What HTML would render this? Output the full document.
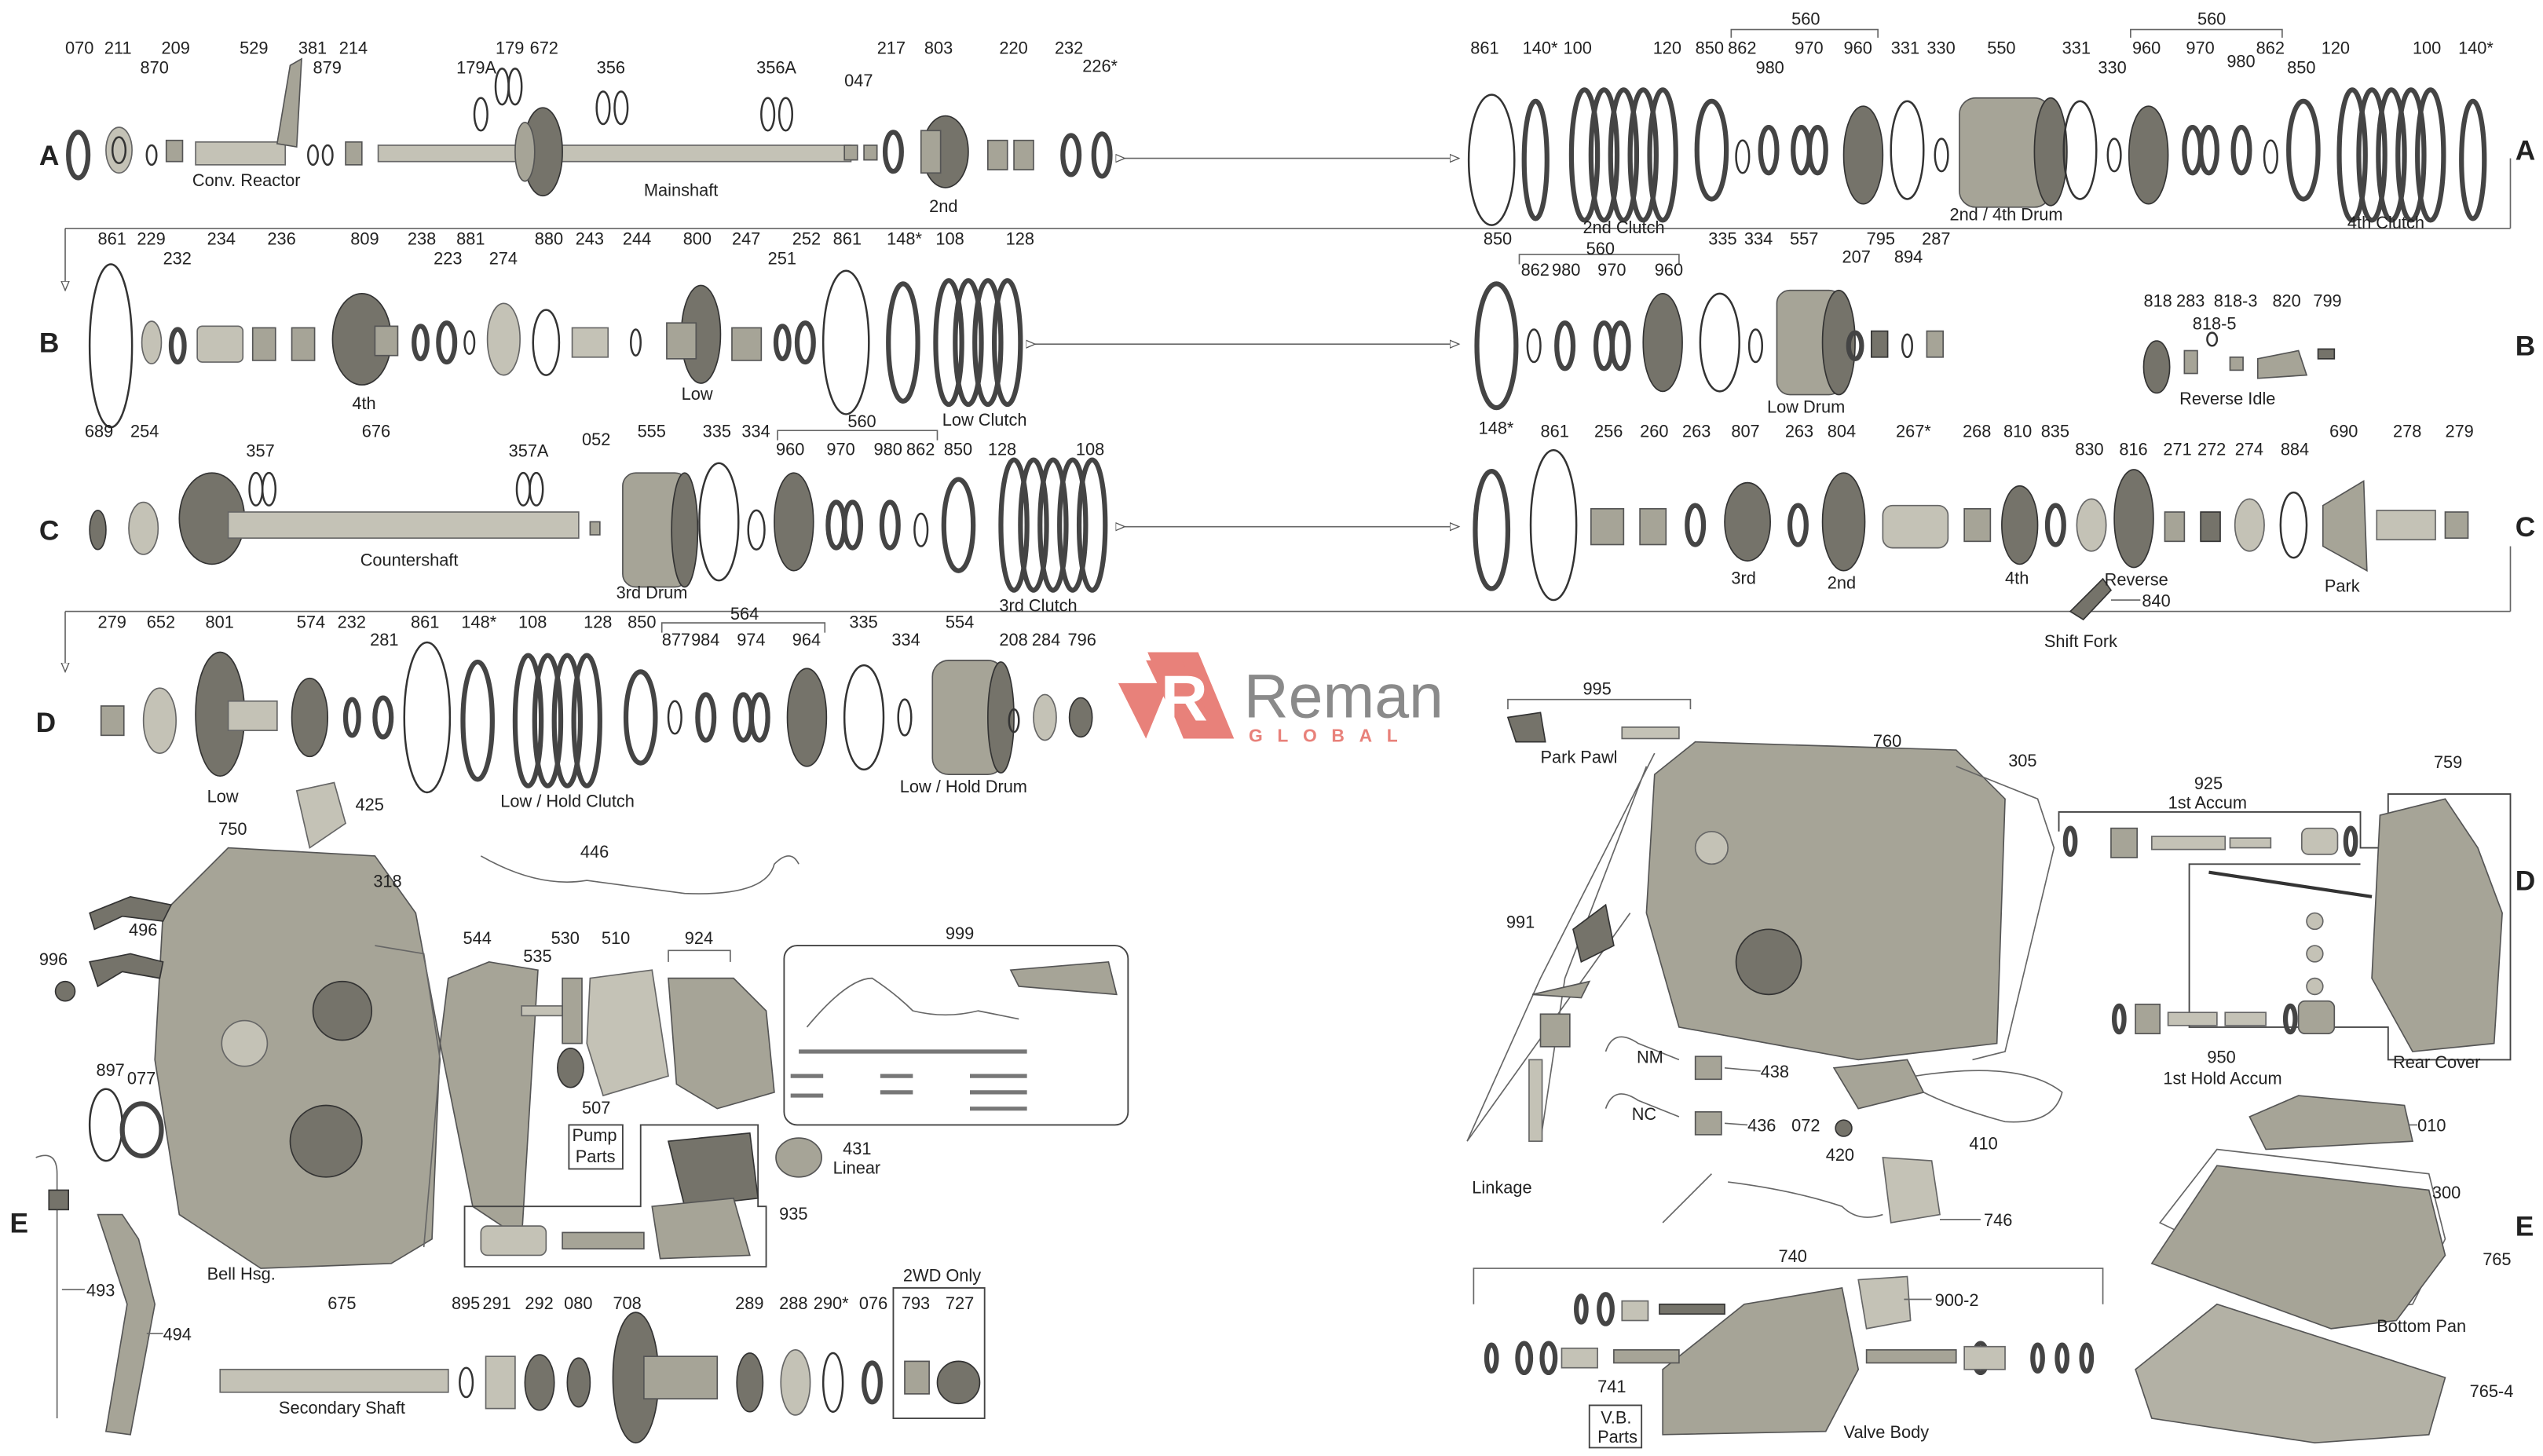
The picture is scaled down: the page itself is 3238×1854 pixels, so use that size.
<!DOCTYPE html>
<html><head><meta charset="utf-8"><style>
html,body{margin:0;padding:0;background:#fff;width:3238px;height:1854px;overflow:hidden}
svg{display:block}
text{font-family:"Liberation Sans",sans-serif;font-size:10.5px;fill:#222}
.L{font-size:17px;font-weight:bold;fill:#222}
.r{fill:none;stroke:#333;stroke-width:1.2}
.rt{fill:none;stroke:#444;stroke-width:3}
.g{fill:#a6a497;stroke:#555;stroke-width:.8}
.gl{fill:#c4c2b6;stroke:#666;stroke-width:.8}
.gd{fill:#75736a;stroke:#333;stroke-width:.8}
.ln{stroke:#666;stroke-width:.8;fill:none}
.bx{fill:none;stroke:#444;stroke-width:.9}
</style></head><body>
<svg width="3238" height="1854" viewBox="0 0 1560 893" xmlns="http://www.w3.org/2000/svg">
<defs><marker id="a" markerWidth="8" markerHeight="8" refX="7" refY="4" orient="auto"><path d="M0,1 L7,4 L0,7 Z" fill="#fff" stroke="#555" stroke-width=".8"/></marker></defs>

<text class="L" x="24" y="101">A</text><text class="L" x="1543" y="98">A</text>
<text class="L" x="24" y="216">B</text><text class="L" x="1543" y="218">B</text>
<text class="L" x="24" y="331">C</text><text class="L" x="1543" y="329">C</text>
<text class="L" x="22" y="449">D</text><text class="L" x="1543" y="546">D</text>
<text class="L" x="6" y="756">E</text><text class="L" x="1543" y="758">E</text>

<line class="ln" x1="690" y1="97" x2="895" y2="97" marker-end="url(#a)" marker-start="url(#a)"/>
<line class="ln" x1="40" y1="140" x2="1540" y2="140"/><line class="ln" x1="1540" y1="97" x2="1540" y2="140"/>
<line class="ln" x1="40" y1="140" x2="40" y2="178" marker-end="url(#a)"/>
<line class="ln" x1="635" y1="211" x2="895" y2="211" marker-end="url(#a)" marker-start="url(#a)"/>
<line class="ln" x1="690" y1="323" x2="895" y2="323" marker-end="url(#a)" marker-start="url(#a)"/>
<line class="ln" x1="40" y1="375" x2="1540" y2="375"/><line class="ln" x1="1540" y1="335" x2="1540" y2="375"/>
<line class="ln" x1="40" y1="375" x2="40" y2="412" marker-end="url(#a)"/>

<ellipse class="rt" cx="48" cy="95" rx="6" ry="14" stroke-width="5"/>
<ellipse class="gl" cx="73" cy="92" rx="8" ry="14"/><ellipse class="r" cx="73" cy="92" rx="4" ry="8"/>
<ellipse class="r" cx="93" cy="95" rx="3" ry="6"/>
<rect class="g" x="102" y="86" width="10" height="13"/>
<rect class="gl" x="120" y="87" width="55" height="14"/><path class="g" d="M170 88 L178 40 L185 36 L182 90 Z"/>
<ellipse class="r" cx="192" cy="95" rx="3" ry="6"/><ellipse class="r" cx="201" cy="95" rx="3" ry="6"/>
<rect class="g" x="212" y="87" width="10" height="14"/>
<rect class="gl" x="232" y="89" width="290" height="10"/>
<ellipse class="gd" cx="333" cy="93" rx="12" ry="27"/><ellipse class="g" cx="322" cy="93" rx="6" ry="18"/>
<ellipse class="r" cx="295" cy="70" rx="4" ry="10"/><ellipse class="r" cx="308" cy="53" rx="4" ry="11"/><ellipse class="r" cx="316" cy="53" rx="4" ry="11"/>
<ellipse class="r" cx="370" cy="66" rx="4" ry="10"/><ellipse class="r" cx="381" cy="66" rx="4" ry="10"/>
<ellipse class="r" cx="471" cy="70" rx="4" ry="10"/><ellipse class="r" cx="482" cy="70" rx="4" ry="10"/>
<rect class="g" x="518" y="89" width="8" height="9"/><rect class="g" x="530" y="89" width="8" height="9"/>
<ellipse class="rt" cx="548" cy="93" rx="5" ry="12"/>
<ellipse class="gd" cx="580" cy="93" rx="14" ry="22"/><rect class="g" x="565" y="80" width="12" height="26"/>
<rect class="g" x="606" y="86" width="12" height="18"/><rect class="g" x="622" y="86" width="12" height="18"/>
<ellipse class="rt" cx="657" cy="95" rx="5" ry="12"/><ellipse class="rt" cx="676" cy="95" rx="5" ry="13" stroke-width="4"/>
<text x="40" y="33">070</text><text x="64" y="33">211</text><text x="86" y="45">870</text><text x="99" y="33">209</text>
<text x="147" y="33">529</text><text x="183" y="33">381</text><text x="192" y="45">879</text><text x="208" y="33">214</text>
<text x="280" y="45">179A</text><text x="304" y="33">179</text><text x="325" y="33">672</text><text x="366" y="45">356</text><text x="464" y="45">356A</text>
<text x="518" y="53">047</text><text x="538" y="33">217</text><text x="567" y="33">803</text><text x="613" y="33">220</text><text x="647" y="33">232</text><text x="664" y="44">226*</text>
<text x="118" y="114">Conv. Reactor</text><text x="395" y="120">Mainshaft</text><text x="570" y="130">2nd</text>

<ellipse class="r" cx="915" cy="98" rx="14" ry="40"/>
<ellipse class="rt" cx="942" cy="98" rx="7" ry="36" stroke-width="5"/>
<g class="rt"><ellipse cx="972" cy="95" rx="8" ry="40"/><ellipse cx="984" cy="95" rx="8" ry="40"/><ellipse cx="996" cy="95" rx="8" ry="40"/><ellipse cx="1008" cy="95" rx="8" ry="40"/><ellipse cx="1020" cy="95" rx="8" ry="40"/></g>
<ellipse class="rt" cx="1050" cy="92" rx="9" ry="30"/><ellipse class="r" cx="1069" cy="96" rx="4" ry="10"/><ellipse class="rt" cx="1085" cy="92" rx="5" ry="14"/>
<ellipse class="rt" cx="1105" cy="92" rx="5" ry="14"/><ellipse class="rt" cx="1115" cy="92" rx="5" ry="14"/>
<ellipse class="gd" cx="1143" cy="95" rx="12" ry="30"/><ellipse class="r" cx="1170" cy="92" rx="10" ry="30"/><ellipse class="r" cx="1191" cy="95" rx="4" ry="10"/>
<rect class="g" x="1202" y="60" width="56" height="67" rx="10"/><ellipse class="gd" cx="1258" cy="93" rx="10" ry="33"/>
<ellipse class="r" cx="1276" cy="92" rx="10" ry="30"/><ellipse class="r" cx="1297" cy="95" rx="4" ry="10"/>
<ellipse class="gd" cx="1318" cy="95" rx="12" ry="30"/>
<ellipse class="rt" cx="1345" cy="92" rx="5" ry="14"/><ellipse class="rt" cx="1355" cy="92" rx="5" ry="14"/><ellipse class="rt" cx="1375" cy="92" rx="5" ry="14"/>
<ellipse class="r" cx="1393" cy="96" rx="4" ry="10"/><ellipse class="rt" cx="1413" cy="92" rx="9" ry="30"/>
<g class="rt"><ellipse cx="1443" cy="95" rx="8" ry="40"/><ellipse cx="1455" cy="95" rx="8" ry="40"/><ellipse cx="1467" cy="95" rx="8" ry="40"/><ellipse cx="1479" cy="95" rx="8" ry="40"/><ellipse cx="1491" cy="95" rx="8" ry="40"/></g>
<ellipse class="rt" cx="1517" cy="98" rx="7" ry="36" stroke-width="5"/>
<path class="ln" d="M1062 23 L1062 18 L1152 18 L1152 23"/><text x="1099" y="15">560</text>
<path class="ln" d="M1307 23 L1307 18 L1400 18 L1400 23"/><text x="1348" y="15">560</text>
<text x="902" y="33">861</text><text x="934" y="33">140*</text><text x="959" y="33">100</text><text x="1014" y="33">120</text><text x="1040" y="33">850</text><text x="1060" y="33">862</text>
<text x="1077" y="45">980</text><text x="1101" y="33">970</text><text x="1131" y="33">960</text><text x="1160" y="33">331</text><text x="1182" y="33">330</text><text x="1219" y="33">550</text>
<text x="1265" y="33">331</text><text x="1287" y="45">330</text><text x="1308" y="33">960</text><text x="1341" y="33">970</text><text x="1366" y="41">980</text><text x="1384" y="33">862</text><text x="1403" y="45">850</text>
<text x="1424" y="33">120</text><text x="1480" y="33">100</text><text x="1508" y="33">140*</text>
<text x="971" y="143">2nd Clutch</text><text x="1196" y="135">2nd / 4th Drum</text><text x="1440" y="140">4th Clutch</text>

<ellipse class="r" cx="68" cy="212" rx="13" ry="50"/>
<ellipse class="gl" cx="93" cy="210" rx="6" ry="13"/><ellipse class="rt" cx="109" cy="212" rx="4" ry="10"/>
<rect class="gl" x="121" y="200" width="28" height="22" rx="3"/>
<rect class="g" x="155" y="201" width="14" height="20"/><rect class="g" x="179" y="201" width="14" height="20"/>
<ellipse class="gd" cx="222" cy="208" rx="18" ry="28"/><rect class="g" x="230" y="200" width="14" height="18"/>
<ellipse class="rt" cx="258" cy="210" rx="4" ry="10"/><ellipse class="rt" cx="274" cy="210" rx="5" ry="12"/><ellipse class="r" cx="288" cy="210" rx="3" ry="7"/>
<ellipse class="gl" cx="309" cy="208" rx="10" ry="22"/><ellipse class="r" cx="335" cy="210" rx="8" ry="20"/>
<rect class="gl" x="351" y="201" width="22" height="18"/><ellipse class="r" cx="390" cy="210" rx="3" ry="8"/>
<ellipse class="gd" cx="430" cy="205" rx="12" ry="30"/><rect class="g" x="409" y="198" width="18" height="22"/>
<rect class="g" x="449" y="201" width="18" height="20"/><ellipse class="rt" cx="480" cy="210" rx="4" ry="10"/><ellipse class="rt" cx="494" cy="210" rx="5" ry="12"/>
<ellipse class="r" cx="519" cy="210" rx="14" ry="44"/><ellipse class="rt" cx="554" cy="210" rx="9" ry="36" stroke-width="5"/>
<g class="rt"><ellipse cx="582" cy="210" rx="8" ry="38"/><ellipse cx="594" cy="210" rx="8" ry="38"/><ellipse cx="606" cy="210" rx="8" ry="38"/><ellipse cx="618" cy="210" rx="8" ry="38"/></g>
<text x="60" y="150">861</text><text x="84" y="150">229</text><text x="100" y="162">232</text><text x="127" y="150">234</text><text x="164" y="150">236</text><text x="215" y="150">809</text>
<text x="250" y="150">238</text><text x="266" y="162">223</text><text x="280" y="150">881</text><text x="300" y="162">274</text><text x="328" y="150">880</text><text x="353" y="150">243</text>
<text x="382" y="150">244</text><text x="419" y="150">800</text><text x="449" y="150">247</text><text x="471" y="162">251</text><text x="486" y="150">252</text><text x="511" y="150">861</text>
<text x="544" y="150">148*</text><text x="574" y="150">108</text><text x="617" y="150">128</text>
<text x="216" y="251">4th</text><text x="418" y="245">Low</text><text x="578" y="261">Low Clutch</text>

<ellipse class="rt" cx="918" cy="212" rx="12" ry="38" stroke-width="4"/>
<ellipse class="r" cx="941" cy="212" rx="4" ry="10"/><ellipse class="rt" cx="960" cy="212" rx="5" ry="14"/>
<ellipse class="rt" cx="984" cy="212" rx="5" ry="14"/><ellipse class="rt" cx="994" cy="212" rx="5" ry="14"/>
<ellipse class="gd" cx="1020" cy="210" rx="12" ry="30"/><ellipse class="r" cx="1055" cy="210" rx="12" ry="30"/><ellipse class="r" cx="1077" cy="212" rx="4" ry="10"/>
<rect class="g" x="1090" y="178" width="40" height="64" rx="8"/><ellipse class="gd" cx="1128" cy="210" rx="10" ry="32"/>
<ellipse class="rt" cx="1138" cy="212" rx="4" ry="8"/><rect class="gd" x="1148" y="203" width="10" height="16"/><ellipse class="r" cx="1170" cy="212" rx="3" ry="7"/><rect class="g" x="1182" y="203" width="10" height="16"/>
<path class="ln" d="M932 162 L932 156 L1030 156 L1030 162"/><text x="973" y="156">560</text>
<text x="910" y="150">850</text><text x="933" y="169">862</text><text x="952" y="169">980</text><text x="980" y="169">970</text><text x="1015" y="169">960</text>
<text x="1048" y="150">335</text><text x="1070" y="150">334</text><text x="1098" y="150">557</text><text x="1130" y="161">207</text><text x="1145" y="150">795</text><text x="1162" y="161">894</text><text x="1179" y="150">287</text>
<text x="1084" y="253">Low Drum</text>
<ellipse class="gd" cx="1323" cy="225" rx="8" ry="16"/><rect class="g" x="1340" y="215" width="8" height="14"/><ellipse class="r" cx="1357" cy="208" rx="3" ry="4"/>
<rect class="g" x="1368" y="219" width="8" height="8"/><path class="g" d="M1385 220 L1410 215 L1415 230 L1385 232 Z"/><rect class="gd" x="1422" y="214" width="10" height="6"/>
<text x="1315" y="188">818</text><text x="1335" y="188">283</text><text x="1358" y="188">818-3</text><text x="1345" y="202">818-5</text><text x="1394" y="188">820</text><text x="1419" y="188">799</text>
<text x="1337" y="248">Reverse Idle</text>

<ellipse class="gd" cx="60" cy="325" rx="5" ry="12"/><ellipse class="gl" cx="88" cy="324" rx="9" ry="16"/>
<ellipse class="gd" cx="130" cy="318" rx="20" ry="28"/><rect class="gl" x="140" y="314" width="215" height="16"/>
<ellipse class="r" cx="157" cy="300" rx="4" ry="10"/><ellipse class="r" cx="165" cy="300" rx="4" ry="10"/>
<ellipse class="r" cx="321" cy="300" rx="4" ry="10"/><ellipse class="r" cx="329" cy="300" rx="4" ry="10"/>
<rect class="g" x="362" y="320" width="6" height="8"/>
<rect class="g" x="382" y="290" width="40" height="70" rx="8"/><ellipse class="gd" cx="420" cy="325" rx="8" ry="35"/>
<ellipse class="r" cx="441" cy="320" rx="12" ry="36"/><ellipse class="r" cx="464" cy="325" rx="5" ry="12"/>
<ellipse class="gd" cx="487" cy="320" rx="12" ry="30"/>
<ellipse class="rt" cx="513" cy="322" rx="5" ry="14"/><ellipse class="rt" cx="523" cy="322" rx="5" ry="14"/><ellipse class="rt" cx="546" cy="322" rx="5" ry="14"/>
<ellipse class="r" cx="565" cy="325" rx="4" ry="10"/><ellipse class="rt" cx="588" cy="322" rx="9" ry="28"/>
<g class="rt"><ellipse cx="622" cy="322" rx="8" ry="40"/><ellipse cx="634" cy="322" rx="8" ry="40"/><ellipse cx="646" cy="322" rx="8" ry="40"/><ellipse cx="658" cy="322" rx="8" ry="40"/><ellipse cx="670" cy="322" rx="8" ry="40"/></g>
<path class="ln" d="M477 270 L477 264 L575 264 L575 270"/><text x="520" y="262">560</text>
<text x="52" y="268">689</text><text x="80" y="268">254</text><text x="151" y="280">357</text><text x="222" y="268">676</text><text x="312" y="280">357A</text><text x="357" y="273">052</text>
<text x="391" y="268">555</text><text x="431" y="268">335</text><text x="455" y="268">334</text><text x="476" y="279">960</text><text x="507" y="279">970</text><text x="536" y="279">980</text><text x="556" y="279">862</text><text x="579" y="279">850</text>
<text x="606" y="279">128</text><text x="660" y="279">108</text>
<text x="221" y="347">Countershaft</text><text x="378" y="367">3rd Drum</text><text x="613" y="375">3rd Clutch</text>

<ellipse class="rt" cx="915" cy="325" rx="10" ry="36" stroke-width="5"/><ellipse class="r" cx="953" cy="322" rx="14" ry="46"/>
<rect class="g" x="976" y="312" width="20" height="22"/><rect class="g" x="1006" y="312" width="16" height="22"/>
<ellipse class="rt" cx="1040" cy="322" rx="5" ry="12"/><ellipse class="gd" cx="1072" cy="320" rx="14" ry="24"/>
<ellipse class="rt" cx="1103" cy="322" rx="5" ry="12"/><ellipse class="gd" cx="1131" cy="320" rx="13" ry="30"/>
<rect class="gl" x="1155" y="310" width="40" height="26" rx="6"/><rect class="g" x="1205" y="312" width="16" height="20"/>
<ellipse class="gd" cx="1239" cy="322" rx="11" ry="24"/><ellipse class="rt" cx="1261" cy="322" rx="5" ry="12"/><ellipse class="gl" cx="1283" cy="322" rx="9" ry="16"/>
<ellipse class="gd" cx="1309" cy="318" rx="12" ry="30"/><rect class="g" x="1328" y="314" width="12" height="18"/><rect class="gd" x="1350" y="314" width="12" height="18"/>
<ellipse class="gl" cx="1380" cy="322" rx="9" ry="16"/><ellipse class="r" cx="1407" cy="322" rx="8" ry="20"/>
<path class="g" d="M1425 310 L1450 295 L1452 350 L1425 335 Z"/><rect class="gl" x="1458" y="313" width="36" height="18"/><rect class="g" x="1500" y="314" width="14" height="16"/>
<path class="gd" d="M1270 375 L1290 355 L1295 362 L1278 380 Z"/>
<text x="907" y="266">148*</text><text x="945" y="268">861</text><text x="978" y="268">256</text><text x="1006" y="268">260</text><text x="1032" y="268">263</text><text x="1062" y="268">807</text>
<text x="1095" y="268">263</text><text x="1121" y="268">804</text><text x="1163" y="268">267*</text><text x="1204" y="268">268</text><text x="1229" y="268">810</text><text x="1252" y="268">835</text>
<text x="1273" y="279">830</text><text x="1300" y="279">816</text><text x="1327" y="279">271</text><text x="1348" y="279">272</text><text x="1371" y="279">274</text><text x="1399" y="279">884</text>
<text x="1429" y="268">690</text><text x="1468" y="268">278</text><text x="1500" y="268">279</text>
<text x="1062" y="358">3rd</text><text x="1121" y="361">2nd</text><text x="1230" y="358">4th</text><text x="1291" y="359">Reverse</text>
<line class="ln" x1="1295" y1="368" x2="1313" y2="368"/><text x="1314" y="372">840</text><text x="1254" y="397">Shift Fork</text><text x="1426" y="363">Park</text>

<rect class="g" x="62" y="433" width="14" height="18"/><ellipse class="gl" cx="98" cy="442" rx="10" ry="20"/>
<ellipse class="gd" cx="135" cy="438" rx="15" ry="38"/><rect class="gl" x="140" y="430" width="30" height="18"/>
<ellipse class="gd" cx="190" cy="440" rx="11" ry="24"/><ellipse class="rt" cx="216" cy="440" rx="4" ry="11"/><ellipse class="rt" cx="235" cy="440" rx="5" ry="12"/>
<ellipse class="r" cx="262" cy="440" rx="14" ry="46"/><ellipse class="rt" cx="293" cy="442" rx="9" ry="36" stroke-width="5"/>
<g class="rt"><ellipse cx="324" cy="442" rx="8" ry="40"/><ellipse cx="336" cy="442" rx="8" ry="40"/><ellipse cx="348" cy="442" rx="8" ry="40"/><ellipse cx="360" cy="442" rx="8" ry="40"/></g>
<ellipse class="rt" cx="393" cy="440" rx="9" ry="28"/><ellipse class="r" cx="414" cy="440" rx="4" ry="10"/><ellipse class="rt" cx="433" cy="440" rx="5" ry="14"/>
<ellipse class="rt" cx="456" cy="440" rx="5" ry="14"/><ellipse class="rt" cx="466" cy="440" rx="5" ry="14"/><ellipse class="gd" cx="495" cy="440" rx="12" ry="30"/>
<ellipse class="r" cx="530" cy="440" rx="12" ry="32"/><ellipse class="r" cx="555" cy="440" rx="4" ry="11"/>
<rect class="g" x="572" y="405" width="44" height="70" rx="10"/><ellipse class="gd" cx="614" cy="440" rx="8" ry="34"/>
<ellipse class="r" cx="622" cy="442" rx="3" ry="7"/><ellipse class="gl" cx="641" cy="440" rx="7" ry="14"/><ellipse class="gd" cx="663" cy="440" rx="7" ry="12"/>
<path class="ln" d="M406 388 L406 382 L506 382 L506 388"/><text x="448" y="380">564</text>
<text x="60" y="385">279</text><text x="90" y="385">652</text><text x="126" y="385">801</text><text x="182" y="385">574</text><text x="207" y="385">232</text><text x="227" y="396">281</text>
<text x="252" y="385">861</text><text x="283" y="385">148*</text><text x="318" y="385">108</text><text x="358" y="385">128</text><text x="385" y="385">850</text>
<text x="406" y="396">877</text><text x="424" y="396">984</text><text x="452" y="396">974</text><text x="486" y="396">964</text><text x="521" y="385">335</text><text x="547" y="396">334</text>
<text x="580" y="385">554</text><text x="613" y="396">208</text><text x="633" y="396">284</text><text x="655" y="396">796</text>
<text x="127" y="492">Low</text><text x="307" y="495">Low / Hold Clutch</text><text x="552" y="486">Low / Hold Drum</text>

<path d="M686 419 L717 419 L703 453 L686 419 Z M704 400 L735 400 L757 453 L726 453 Z" fill="#e8817a"/>
<path d="M703 405 L725 405 L742 440 L720 440 Z" fill="#e8817a"/>
<text x="712" y="442" style="font-size:40px;font-weight:bold;fill:#fff">R</text>
<text x="763" y="440" style="font-size:38px;fill:#8a8a8a">Reman</text>
<text x="766" y="455" style="font-size:11px;font-weight:bold;fill:#e8817a;letter-spacing:9px">GLOBAL</text>

<path class="g" d="M100 560 L140 520 L230 525 L255 560 L270 640 L265 760 L240 775 L160 778 L110 745 L95 650 Z"/>
<path class="ln" d="M230 580 L260 585 L270 650 L260 765" stroke-width="1.5"/>
<circle class="gd" cx="210" cy="620" r="18"/><circle class="gl" cx="150" cy="640" r="14"/><circle class="gd" cx="200" cy="700" r="22"/>
<path class="gl" d="M182 485 L205 480 L212 505 L190 520 Z"/>
<path class="gd" d="M55 560 L80 550 L105 555 L100 565 L75 562 L58 570 Z"/><path class="gd" d="M55 590 L80 585 L100 590 L98 600 L75 596 L60 605 Z"/>
<ellipse class="gd" cx="40" cy="608" rx="6" ry="6"/><ellipse class="r" cx="65" cy="690" rx="10" ry="22"/><ellipse class="rt" cx="87" cy="693" rx="12" ry="16" stroke-width="5"/>
<path class="ln" d="M295 525 Q330 545 360 540 L420 548 Q470 550 475 530 Q485 520 490 530" stroke-width="1.5"/>
<path class="g" d="M275 600 L300 590 L330 595 L320 760 L290 740 L270 640 Z"/>
<rect class="gl" x="320" y="617" width="25" height="6"/><rect class="g" x="345" y="600" width="12" height="40"/><ellipse class="gd" cx="350" cy="655" rx="8" ry="12"/>
<path class="gl" d="M362 600 L400 595 L410 660 L370 672 L360 640 Z"/>
<path class="g" d="M410 600 L450 600 L470 620 L475 670 L440 680 L415 665 Z"/>
<path class="ln" d="M410 590 L410 583 L448 583 L448 590"/>
<rect class="bx" x="481" y="580" width="211" height="110" rx="8"/>
<path class="ln" d="M495 630 Q520 600 535 600 Q550 610 560 620 Q580 625 600 620 L625 625" stroke-width="2"/>
<path class="g" d="M620 595 L680 590 L685 610 L625 605 Z"/>
<g stroke="#777" stroke-width="2.5"><line x1="490" y1="645" x2="630" y2="645"/><line x1="485" y1="660" x2="505" y2="660"/><line x1="540" y1="660" x2="560" y2="660"/><line x1="595" y1="660" x2="630" y2="660"/><line x1="485" y1="672" x2="505" y2="672"/><line x1="540" y1="670" x2="560" y2="670"/><line x1="595" y1="670" x2="630" y2="670"/><line x1="595" y1="680" x2="630" y2="680"/></g>
<rect class="bx" x="349" y="690" width="33" height="27"/>
<path class="bx" d="M393 690 L465 690 L465 740 L470 740 L470 777 L285 777 L285 740 L393 740 Z"/>
<path class="gd" d="M410 700 L460 695 L465 735 L420 740 Z"/><ellipse class="g" cx="490" cy="710" rx="14" ry="12"/>
<rect class="gl" x="295" y="752" width="40" height="18" rx="4"/><rect class="g" x="345" y="756" width="50" height="10"/><path class="g" d="M400 740 L450 735 L460 770 L405 772 Z"/>
<text x="134" y="512">750</text><text x="229" y="544">318</text><text x="218" y="497">425</text><text x="356" y="526">446</text><text x="79" y="574">496</text><text x="24" y="592">996</text>
<text x="59" y="660">897</text><text x="78" y="665">077</text><text x="127" y="785">Bell Hsg.</text>
<text x="284" y="579">544</text><text x="321" y="590">535</text><text x="338" y="579">530</text><text x="369" y="579">510</text><text x="420" y="579">924</text>
<text x="357" y="683">507</text><text x="351" y="700">Pump</text><text x="353" y="713">Parts</text><text x="580" y="576">999</text>
<text x="517" y="708">431</text><text x="511" y="720">Linear</text><text x="478" y="748">935</text>
<path class="ln" d="M22 710 Q35 705 35 720 L35 870" stroke-width="1.5"/><rect class="gd" x="30" y="730" width="12" height="12"/>
<path class="g" d="M60 745 L75 745 L85 760 L95 800 L80 880 L65 878 L78 800 L65 760 Z"/>
<line class="ln" x1="38" y1="791" x2="52" y2="791"/><line class="ln" x1="90" y1="818" x2="100" y2="818"/>
<text x="53" y="795">493</text><text x="100" y="822">494</text>
<rect class="gl" x="135" y="840" width="140" height="14"/>
<ellipse class="r" cx="286" cy="848" rx="4" ry="9"/><rect class="gl" x="298" y="832" width="18" height="32"/><ellipse class="gd" cx="331" cy="848" rx="9" ry="17"/><ellipse class="gd" cx="355" cy="848" rx="7" ry="15"/>
<ellipse class="gd" cx="390" cy="845" rx="14" ry="40"/><rect class="g" x="395" y="832" width="45" height="26"/>
<ellipse class="gd" cx="460" cy="848" rx="8" ry="18"/><ellipse class="gl" cx="488" cy="848" rx="9" ry="20"/><ellipse class="r" cx="511" cy="848" rx="6" ry="18"/><ellipse class="rt" cx="535" cy="848" rx="5" ry="12"/>
<rect class="bx" x="548" y="790" width="56" height="80"/><rect class="g" x="555" y="835" width="15" height="20"/><circle class="gd" cx="588" cy="848" r="13"/>
<text x="201" y="803">675</text><text x="277" y="803">895</text><text x="296" y="803">291</text><text x="322" y="803">292</text><text x="346" y="803">080</text><text x="376" y="803">708</text>
<text x="451" y="803">289</text><text x="478" y="803">288</text><text x="499" y="803">290*</text><text x="527" y="803">076</text><text x="554" y="786">2WD Only</text><text x="553" y="803">793</text><text x="580" y="803">727</text>
<text x="171" y="867">Secondary Shaft</text>

<path class="ln" d="M925 435 L925 429 L1037 429 L1037 435"/><text x="971" y="426">995</text>
<path class="gd" d="M925 440 L945 437 L948 455 L930 455 Z"/><rect class="gl" x="995" y="446" width="35" height="7"/>
<text x="945" y="468">Park Pawl</text>
<path class="g" d="M1015 475 L1040 455 L1200 460 L1230 490 L1225 640 L1140 650 L1030 630 L1010 560 Z"/>
<path class="ln" d="M1200 470 L1250 490 L1260 520 L1230 645 L1210 650" stroke-width="1.5"/>
<circle class="gd" cx="1085" cy="590" r="20"/><circle class="gl" cx="1050" cy="520" r="10"/>
<text x="1149" y="458">760</text><text x="1232" y="470">305</text><text x="924" y="569">991</text><text x="903" y="732">Linkage</text>
<path class="ln" d="M1015 462 L945 600 L900 700 L1000 560"/>
<path class="ln" d="M1010 470 L960 600 L945 700"/>
<path class="gd" d="M965 570 L985 555 L990 580 L970 590 Z"/><path class="g" d="M940 610 L975 602 L970 612 Z"/><rect class="g" x="945" y="622" width="18" height="20"/><rect class="gl" x="938" y="650" width="8" height="50"/>
<path class="ln" d="M985 645 Q990 630 1005 640 L1030 650" stroke-width="3"/><rect class="g" x="1040" y="648" width="16" height="14"/>
<path class="ln" d="M985 680 Q990 665 1005 675 L1030 685" stroke-width="3"/><rect class="g" x="1040" y="682" width="16" height="14"/>
<text x="1004" y="652">NM</text><text x="1001" y="687">NC</text><line class="ln" x1="1058" y1="655" x2="1080" y2="657"/><text x="1080" y="661">438</text><line class="ln" x1="1058" y1="689" x2="1072" y2="690"/><text x="1072" y="694">436</text>
<path class="g" d="M1125 655 L1170 650 L1180 670 L1140 680 Z"/><path class="ln" d="M1175 660 Q1240 650 1265 670 Q1260 690 1230 688 Q1200 680 1180 670" stroke-width="2.5"/>
<circle class="gd" cx="1131" cy="692" r="5"/><text x="1099" y="694">072</text><text x="1120" y="712">420</text><text x="1208" y="705">410</text>
<path class="ln" d="M1050 720 L1040 730 L1020 750" stroke-width="5" stroke="#222"/><path class="ln" d="M1060 725 Q1100 730 1130 740 Q1140 750 1155 745" stroke-width="1"/>
<path class="gl" d="M1155 710 L1185 712 L1190 745 L1160 750 Z"/><line class="ln" x1="1190" y1="748" x2="1215" y2="748"/><text x="1217" y="752">746</text>
<path class="ln" d="M904 800 L904 778 L1290 778 L1290 800"/><text x="1091" y="774">740</text>
<path class="g" d="M1020 840 L1070 800 L1130 790 L1140 840 L1120 878 L1020 880 Z"/><path class="gl" d="M1140 785 L1170 783 L1172 810 L1145 815 Z"/>
<g class="rt" stroke-width="2"><ellipse cx="970" cy="803" rx="3" ry="8"/><ellipse cx="985" cy="803" rx="4" ry="9"/><ellipse cx="915" cy="833" rx="3" ry="8"/><ellipse cx="935" cy="833" rx="4" ry="9"/><ellipse cx="950" cy="833" rx="4" ry="9"/><ellipse cx="1215" cy="833" rx="4" ry="9"/><ellipse cx="1250" cy="833" rx="3" ry="8"/><ellipse cx="1265" cy="833" rx="3" ry="8"/><ellipse cx="1280" cy="833" rx="3" ry="8"/></g>
<rect class="gl" x="995" y="798" width="16" height="12"/><rect class="gd" x="1018" y="800" width="40" height="6"/><rect class="gl" x="958" y="827" width="22" height="12"/><rect class="g" x="990" y="828" width="40" height="8"/>
<rect class="g" x="1145" y="828" width="55" height="8"/><rect class="gl" x="1205" y="826" width="25" height="14"/>
<rect class="bx" x="975" y="862" width="32" height="26"/><text x="980" y="854">741</text><text x="982" y="873">V.B.</text><text x="980" y="885">Parts</text>
<text x="1131" y="882">Valve Body</text><line class="ln" x1="1168" y1="797" x2="1185" y2="797"/><text x="1187" y="801">900-2</text>
<path class="bx" d="M1263 510 L1263 498 L1448 498 L1448 520 L1465 520 L1465 487 L1540 487 L1540 650 L1465 650 L1465 630 L1343 630 L1343 530 L1448 530"/>
<text x="1346" y="484">925</text><text x="1330" y="496">1st Accum</text>
<rect class="g" x="1295" y="508" width="16" height="18"/><rect class="gl" x="1320" y="513" width="45" height="8"/><rect class="gl" x="1368" y="514" width="25" height="6"/><rect class="gl" x="1412" y="508" width="22" height="16" rx="4"/><ellipse class="rt" cx="1442" cy="516" rx="3" ry="8" stroke-width="2"/><ellipse class="rt" cx="1270" cy="516" rx="3" ry="8" stroke-width="2"/>
<path class="g" d="M1460 500 L1500 490 L1520 520 L1535 560 L1530 640 L1480 645 L1455 600 Z"/>
<line x1="1355" y1="535" x2="1455" y2="550" stroke="#333" stroke-width="2"/>
<circle class="gl" cx="1420" cy="565" r="5"/><circle class="gl" cx="1420" cy="585" r="5"/><circle class="gl" cx="1420" cy="605" r="5"/>
<text x="1493" y="471">759</text><text x="1468" y="655">Rear Cover</text>
<g class="rt" stroke-width="2"><ellipse cx="1300" cy="625" rx="3" ry="8"/><ellipse cx="1405" cy="625" rx="3" ry="8"/></g>
<rect class="g" x="1310" y="616" width="15" height="18"/><rect class="gl" x="1330" y="621" width="30" height="8"/><rect class="gl" x="1365" y="621" width="25" height="8"/><rect class="g" x="1410" y="614" width="22" height="20" rx="4"/>
<text x="1354" y="652">950</text><text x="1327" y="665">1st Hold Accum</text>
<path class="g" d="M1380 685 L1410 672 L1475 678 L1480 700 L1390 705 Z"/><line class="ln" x1="1478" y1="690" x2="1483" y2="690"/><text x="1483" y="694">010</text>
<path class="ln" d="M1325 750 L1360 705 L1490 720 L1500 760 L1480 800 L1440 805 Z" stroke-width="1.5"/><text x="1492" y="735">300</text>
<path class="g" d="M1320 775 L1360 715 L1490 730 L1500 770 L1470 810 L1430 815 Z"/><text x="1523" y="776">765</text>
<text x="1458" y="817">Bottom Pan</text>
<path class="g" d="M1310 840 L1360 800 L1500 845 L1490 880 L1420 885 L1320 870 Z" style="fill:#b3b1a5"/>
<text x="1515" y="857">765-4</text>
</svg>
</body></html>
